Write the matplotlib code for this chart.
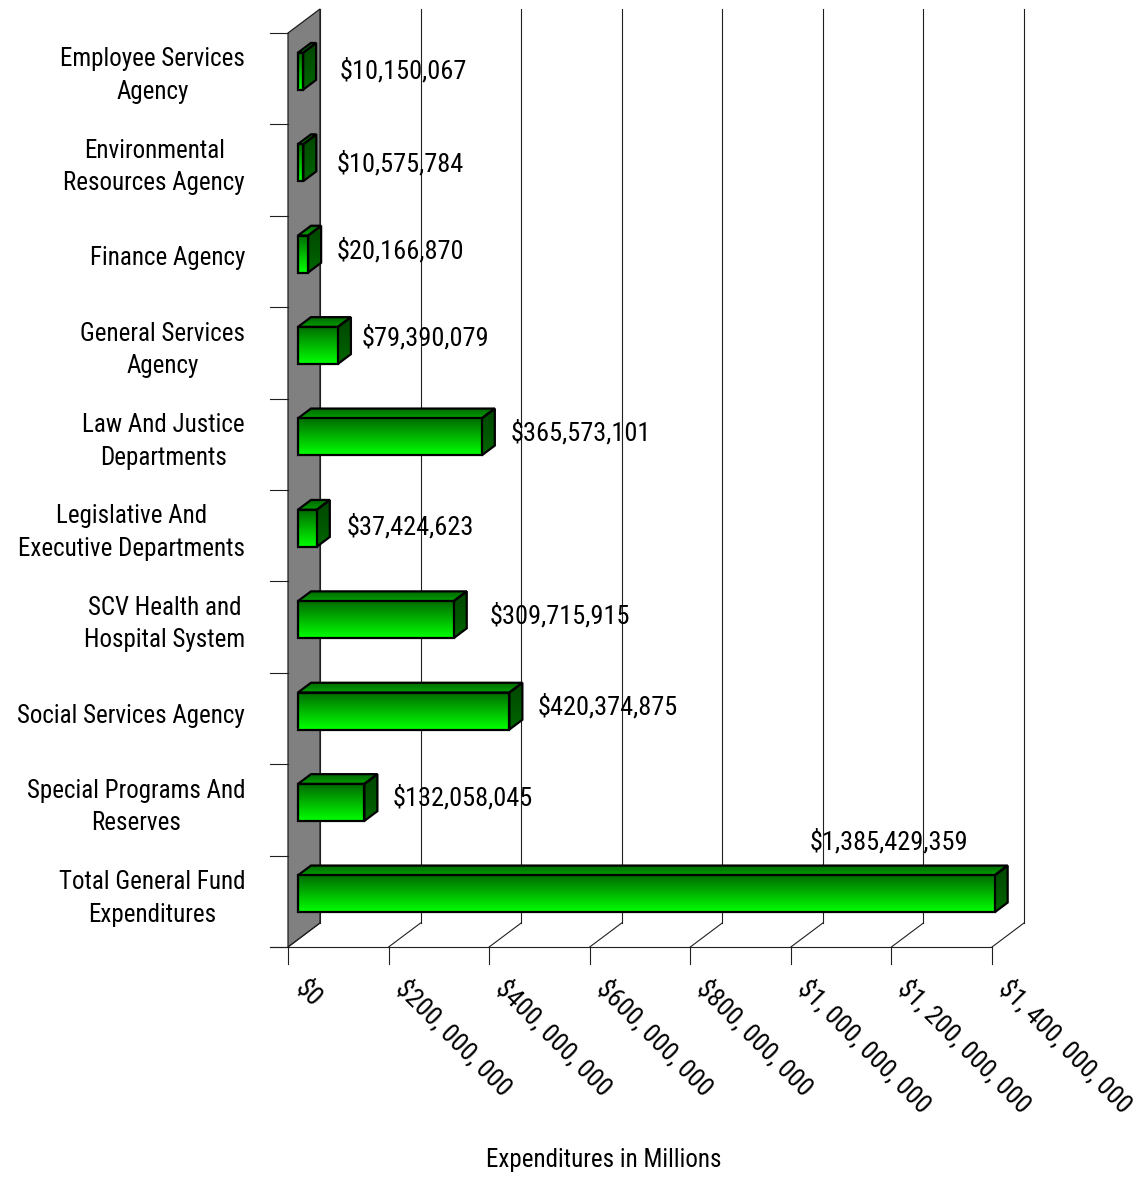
import numpy as np
import matplotlib
matplotlib.use("Agg")
import matplotlib.pyplot as plt
from matplotlib.patches import Polygon

# ---- data -------------------------------------------------------------
categories = [
    "Employee Services\nAgency",
    "Environmental\nResources Agency",
    "Finance Agency",
    "General Services\nAgency",
    "Law And Justice\nDepartments",
    "Legislative And\nExecutive Departments",
    "SCV Health and\nHospital System",
    "Social Services Agency",
    "Special Programs And\nReserves",
    "Total General Fund\nExpenditures",
]
values = [10150067, 10575784, 20166870, 79390079, 365573101,
          37424623, 309715915, 420374875, 132058045, 1385429359]
tick_values = [0, 200000000, 400000000, 600000000, 800000000,
               1000000000, 1200000000, 1400000000]
axis_title = "Expenditures in Millions"

# ---- styling ----------------------------------------------------------
FONT = ["Roboto Condensed", "Archivo Narrow", "Liberation Sans", "DejaVu Sans"]
FS = 18        # category labels and axis title
FS_NUM = 19    # numeric labels
plt.rcParams["font.family"] = FONT

# value-label nudges (pixels) relative to the bar's outer end
LABEL_NUDGE = [(24, 0), (20, 1), (15, -3), (11, -8), (16, -4),
               (17, -1), (23, -4), (15, -4), (15, -5), (-119, -52)]

W, H = 1143, 1178
fig = plt.figure(figsize=(W / 100, H / 100), dpi=100)
ax = fig.add_axes([0, 0, 1, 1])
ax.set_axis_off()
ax.set_autoscale_on(False)

N = len(categories)
XMAX = tick_values[-1]
X0_PX, X1_PX = 288, 992      # front plane extent, horizontal
Y0_PX, Y1_PX = 33, 947       # front plane extent, vertical
sx = XMAX / (X1_PX - X0_PX)  # data units per pixel
sy = N / (Y1_PX - Y0_PX)
ax.set_xlim(-X0_PX * sx, (W - X0_PX) * sx)
ax.set_ylim(N + (H - Y1_PX) * sy, -Y0_PX * sy)

# depth vector of the chart box
WX, WY = 32 * sx, -24 * sy
LINE = "#202020"

# back wall
wall = Polygon([(0, 0), (WX, WY), (WX, N + WY), (0, N)], closed=True,
               facecolor="#808080", edgecolor=LINE, lw=0.9, zorder=1)
ax.add_patch(wall)

# back gridlines, floor diagonals and tick marks
for v in tick_values:
    ax.plot([v + WX, v + WX], [WY, N + WY], color=LINE, lw=0.8, zorder=1.5)
    ax.plot([v, v + WX], [N, N + WY], color=LINE, lw=0.8, zorder=1.5)
    ax.plot([v, v], [N, N + 17 * sy], color=LINE, lw=0.8, zorder=1.5)
ax.plot([-18 * sx, XMAX], [N, N], color=LINE, lw=0.8, zorder=1.5)
for b in range(N + 1):
    ax.plot([-18 * sx, 0], [b, b], color=LINE, lw=0.8, zorder=1.5)


def gradient_face(verts, c_top, c_bot, z):
    poly = Polygon(verts, closed=True, facecolor="none", edgecolor="none",
                   zorder=z)
    ax.add_patch(poly)
    xs = [p[0] for p in verts]
    ys = [p[1] for p in verts]
    t = np.linspace(0, 1, 96)[:, None]
    arr = (1 - t) * np.array(c_top) + t * np.array(c_bot)
    arr = np.repeat(arr[:, None, :], 2, axis=1)
    im = ax.imshow(arr, extent=(min(xs), max(xs), max(ys), min(ys)),
                   origin="upper", aspect="auto", interpolation="bilinear",
                   zorder=z)
    im.set_clip_path(poly)
    ax.add_patch(Polygon(verts, closed=True, facecolor="none",
                         edgecolor="black", lw=1.6, joinstyle="miter",
                         zorder=z + 0.1))


# 3-D bars
f0, f1 = 10 / 32, 23 / 32
half = 37 / 91.4 / 2
for i, v in enumerate(values):
    yc = i + 0.5
    ox0, oy0 = f0 * WX, f0 * WY
    ox1, oy1 = f1 * WX, f1 * WY
    t0, b0 = yc + oy0 - half, yc + oy0 + half
    t1, b1 = yc + oy1 - half, yc + oy1 + half
    z = 3 + i * 0.5
    # top face
    gradient_face([(ox0, t0), (v + ox0, t0), (v + ox1, t1), (ox1, t1)],
                  (0, 0.40, 0), (0, 0.62, 0), z)
    # side face
    gradient_face([(v + ox0, t0), (v + ox1, t1), (v + ox1, b1), (v + ox0, b0)],
                  (0, 0.27, 0), (0, 0.40, 0), z)
    # front face
    gradient_face([(ox0, t0), (v + ox0, t0), (v + ox0, b0), (ox0, b0)],
                  (0, 0.42, 0), (0, 1.0, 0), z + 0.2)

    dx, dy = LABEL_NUDGE[i]
    ax.annotate(f"${v:,}", xy=(v + ox1, yc + oy0), xytext=(dx, -dy),
                textcoords="offset pixels",
                ha="left" if dx > 0 else "center", va="center",
                fontsize=FS_NUM, zorder=10)

# category labels
for i, c in enumerate(categories):
    ax.text(-43 * sx, i + 0.5 - 3 * sy, c, ha="right", va="center",
            multialignment="center", fontsize=FS, linespacing=1.45,
            zorder=10)

# rotated value-axis labels
for v in tick_values:
    lab = f"${v:,}".replace(",", ", ")
    ax.annotate(lab, xy=(v, N), xytext=(20, -28), textcoords="offset pixels",
                rotation=-45, rotation_mode="anchor", ha="left", va="top",
                fontsize=FS_NUM, zorder=10)

ax.text((604 - X0_PX) * sx, N + (1160 - Y1_PX) * sy, axis_title,
        ha="center", va="center", fontsize=FS, zorder=10)

fig.savefig("out.png", dpi=100)
